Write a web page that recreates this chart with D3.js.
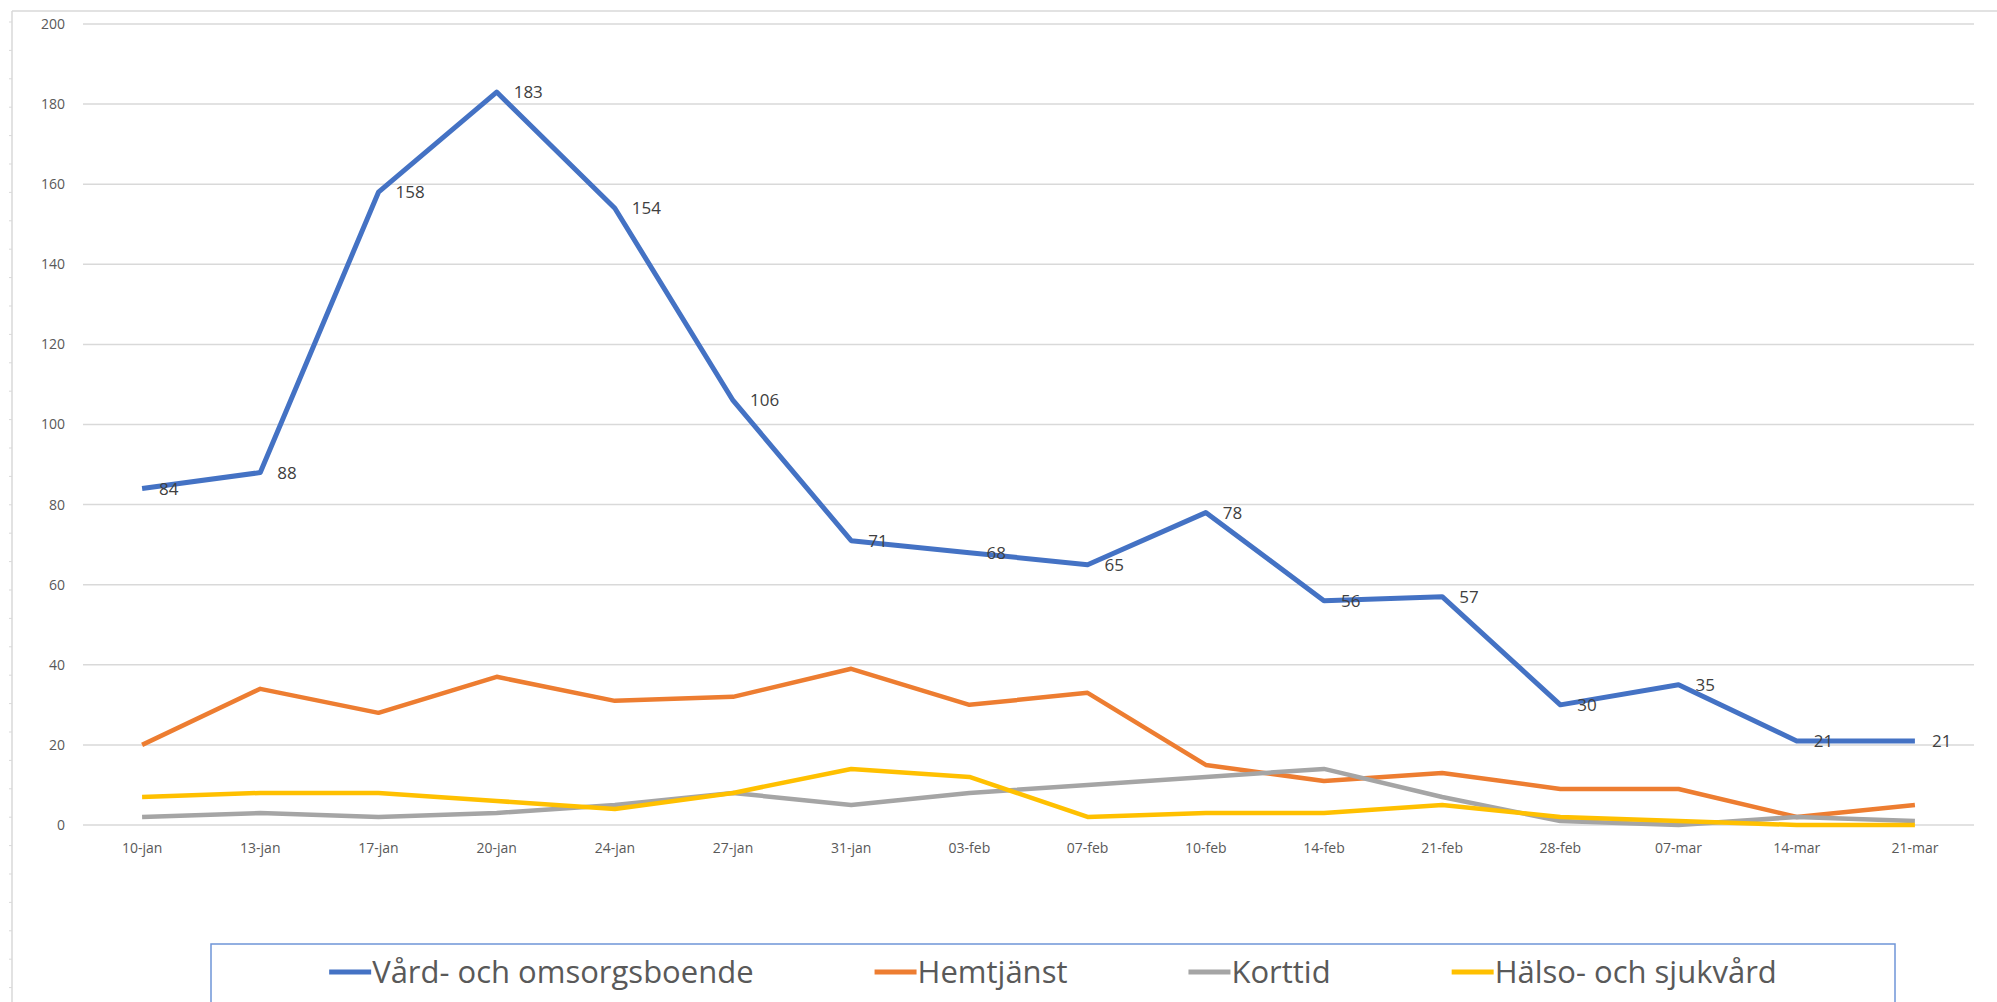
<!DOCTYPE html>
<html>
<head>
<meta charset="utf-8">
<script src="https://cdn.jsdelivr.net/npm/d3@7"></script>
<style>
	html, body { margin: 0; padding: 0; background: #fff; }
	svg { display: block; font-family: "Open Sans", sans-serif; }
</style>
</head>
<body>
<div id="chart"></div>
<script>
// Dates on the category axis
const categories = ['10-jan', '13-jan', '17-jan', '20-jan', '24-jan', '27-jan', '31-jan', '03-feb',
	'07-feb', '10-feb', '14-feb', '21-feb', '28-feb', '07-mar', '14-mar', '21-mar'];

const vardValues = [84, 88, 158, 183, 154, 106, 71, 68, 65, 78, 56, 57, 30, 35, 21, 21];
const hemtjanstValues = [20, 34, 28, 37, 31, 32, 39, 30, 33, 15, 11, 13, 9, 9, 2, 5];
const korttidValues = [2, 3, 2, 3, 5, 8, 5, 8, 10, 12, 14, 7, 1, 0, 2, 1];
const halsoValues = [7, 8, 8, 6, 4, 8, 14, 12, 2, 3, 3, 5, 2, 1, 0, 0];

const seriesNames = ['Vård- och omsorgsboende', 'Hemtjänst', 'Korttid', 'Hälso- och sjukvård'];
const seriesColors = ['#4472C4', '#ED7D31', '#A5A5A5', '#FFC000'];

const yTicks = [0, 20, 40, 60, 80, 100, 120, 140, 160, 180, 200];

const series = [vardValues, hemtjanstValues, korttidValues, halsoValues].map((values, i) => ({
	name: seriesNames[i],
	color: seriesColors[i],
	values: values
}));

const width = 1997,
	height = 1002;

const svg = d3.select('#chart').append('svg')
	.attr('width', width)
	.attr('height', height);

// Outer frame: top and left edges with little ruler marks
svg.append('line')
	.attr('x1', 12).attr('x2', width)
	.attr('y1', 11).attr('y2', 11)
	.style('stroke', '#d9d9d9').style('stroke-width', 1.5);
svg.append('line')
	.attr('x1', 12).attr('x2', 12)
	.attr('y1', 11).attr('y2', height)
	.style('stroke', '#d9d9d9').style('stroke-width', 1.5);
svg.append('g')
	.selectAll('line')
	.data(d3.range(22, height, 28.4))
	.enter()
		.append('line')
		.attr('x1', 9).attr('x2', 12)
		.attr('y1', d => d).attr('y2', d => d)
		.style('stroke', '#d9d9d9').style('stroke-width', 1);

const x = d3.scalePoint()
	.domain(categories)
	.range([83, 1974])
	.padding(0.5);

const y = d3.scaleLinear()
	.domain([0, 200])
	.range([825, 24]);

// Gridlines + y labels
const yAxis = svg.append('g').attr('class', 'y-axis');
yAxis.selectAll('line')
	.data(yTicks)
	.enter()
		.append('line')
		.attr('x1', 83).attr('x2', 1974)
		.attr('y1', d => y(d)).attr('y2', d => y(d))
		.style('stroke', '#d9d9d9')
		.style('stroke-width', 1.5);
yAxis.selectAll('text')
	.data(yTicks)
	.enter()
		.append('text')
		.attr('x', 65)
		.attr('y', d => y(d))
		.attr('dy', '0.35em')
		.attr('text-anchor', 'end')
		.style('font-size', '14px')
		.style('fill', '#595959')
		.text(d => d);

// Category labels
svg.append('g')
	.attr('class', 'x-axis')
	.selectAll('text')
	.data(categories)
	.enter()
		.append('text')
		.attr('x', d => x(d))
		.attr('y', 848)
		.attr('dy', '0.35em')
		.attr('text-anchor', 'middle')
		.style('font-size', '14px')
		.style('fill', '#595959')
		.text(d => d);

const line = d3.line()
	.x((d, i) => x(categories[i]))
	.y(d => y(d));

svg.append('g')
	.attr('class', 'lines')
	.selectAll('path')
	.data(series)
	.enter()
		.append('path')
		.attr('d', d => line(d.values))
		.style('fill', 'none')
		.style('stroke', d => d.color)
		.style('stroke-width', (d, i) => i === 0 ? 5 : 4.5)
		.style('stroke-linejoin', 'round');

// Data labels only on the first series
svg.append('g')
	.attr('class', 'labels')
	.selectAll('text')
	.data(vardValues)
	.enter()
		.append('text')
		.attr('x', (d, i) => x(categories[i]) + 17)
		.attr('y', d => y(d))
		.attr('dy', '0.35em')
		.style('font-size', '17px')
		.style('fill', '#404040')
		.text(d => d);

// Legend
const legend = svg.append('g').attr('class', 'legend');
legend.append('rect')
	.attr('x', 211).attr('y', 944)
	.attr('width', 1684).attr('height', 80)
	.style('fill', '#fff')
	.style('stroke', '#6f95d8')
	.style('stroke-width', 1.5);

const items = legend.selectAll('g.item')
	.data(series)
	.enter()
		.append('g')
		.attr('class', 'item');

items.append('line')
	.attr('x1', 0).attr('x2', 42)
	.attr('y1', 972).attr('y2', 972)
	.style('stroke', d => d.color)
	.style('stroke-width', 5);

items.append('text')
	.attr('x', 43)
	.attr('y', 972)
	.attr('dy', '0.35em')
	.style('font-size', '31px')
	.style('fill', '#595959')
	.text(d => d.name);

// place items centred in the box
const gap = 121;
const widths = [];
items.each(function(){
	widths.push(43 + d3.select(this).select('text').node().getComputedTextLength());
});
const total = d3.sum(widths) + gap * (widths.length - 1);
let cursor = (211 + 1895) / 2 - total / 2;
items.each(function(d, i){
	d3.select(this).attr('transform', `translate(${cursor},0)`);
	cursor += widths[i] + gap;
});
</script>
</body>
</html>
